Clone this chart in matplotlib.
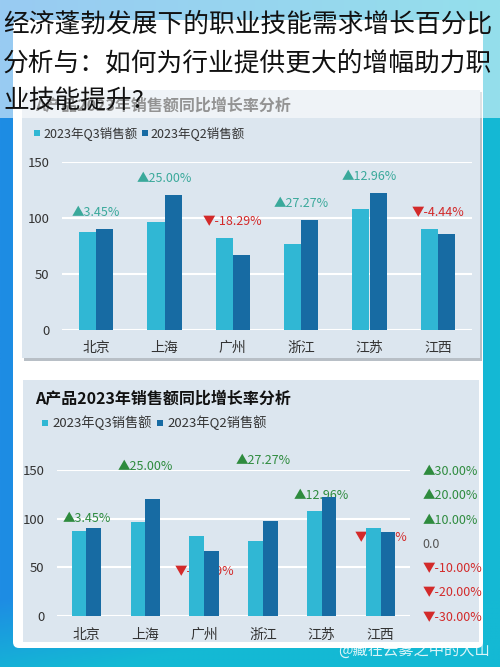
import matplotlib
matplotlib.use('Agg')
import matplotlib.pyplot as plt
import numpy as np
from matplotlib.patches import Rectangle, FancyBboxPatch

plt.rcParams['font.family'] = ['Noto Sans CJK SC', 'DejaVu Sans']

# data
cities = ['北京', '上海', '广州', '浙江', '江苏', '江西']
q3_sales = [87, 96, 82, 77, 108, 90]
q2_sales = [90, 120, 67, 98, 122, 86]
growth = [3.45, 25.00, -18.29, 27.27, 12.96, -4.44]
left_ticks = [0, 50, 100, 150]
right_ticks = [30, 20, 10, 0, -10, -20, -30]
series_names = ['2023年Q3销售额', '2023年Q2销售额']
chart_title = 'A产品2023年销售额同比增长率分析'
headline = ['经济蓬勃发展下的职业技能需求增长百分比',
            '分析与：如何为行业提供更大的增幅助力职',
            '业技能提升?']
watermark = '@藏在云雾之中的大山'

c_q3 = '#30b7d4'
c_q2 = '#176ba3'
c_panel = '#dce6ef'
c_up_top = '#3aa99b'
c_up = '#2e8b3e'
c_down = '#d32a2a'
c_text = '#333333'

W, H = 500, 667
fig = plt.figure(figsize=(W / 100, H / 100), dpi=100)


def px_rect(l, t, r, b):
    return [l / W, 1 - b / H, (r - l) / W, (b - t) / H]


# background layer in pixel coordinates
bg = fig.add_axes([0, 0, 1, 1], zorder=-10)
gx = np.linspace(0, 1, 200)[None, :]
gy = np.linspace(0, 1, 267)[:, None]
t = np.clip(gx + np.clip((gy - 0.9) * 8, 0, 1), 0, 1)[..., None]
c0 = np.array([30, 140, 228]) / 255
c1 = np.array([20, 185, 212]) / 255
bg.imshow(c0 * (1 - t) + c1 * t, extent=(0, W, H, 0), aspect='auto')
bg.set_xlim(0, W)
bg.set_ylim(H, 0)
bg.axis('off')

bg.add_patch(FancyBboxPatch((13, 20), 470, 628, boxstyle='round,pad=0,rounding_size=6',
                            fc='white', ec='none'))
# panels with a soft shadow
bg.add_patch(Rectangle((24, 92), 458, 269, fc='#b8bfc6', ec='none'))
bg.add_patch(Rectangle((22, 90), 458, 268, fc=c_panel, ec='none'))
bg.add_patch(Rectangle((23, 380), 456, 262, fc=c_panel, ec='none'))

# titles and legends of both panels
for ty, sq, tx, fs in [(106, [(34, 130), (142, 130)], [43, 150], 9),
                       (399, [(42, 420), (157, 420)], [52, 167], 9.5)]:
    bg.text(35, ty, chart_title, fontsize=11.5, fontweight='bold', color='#111111',
            va='center', ha='left')
    for (sx, sy), x0, name, col in zip(sq, tx, series_names, [c_q3, c_q2]):
        bg.add_patch(Rectangle((sx, sy), 6, 6, fc=col, ec='none'))
        bg.text(x0, sy + 3, name, fontsize=fs, color=c_text, va='center', ha='left')

x = np.arange(len(cities))
w = 0.25

# ---- top chart ----
ax = fig.add_axes(px_rect(62, 161.7, 472, 330), zorder=1)
ax.set_facecolor('none')
ax.bar(x - w / 2, q3_sales, w, color=c_q3, zorder=2)
ax.bar(x + w / 2, q2_sales, w, color=c_q2, zorder=2)
for i, gr in enumerate(growth):
    top = max(q3_sales[i], q2_sales[i])
    if gr >= 0:
        lab, col = '▲%.2f%%' % gr, c_up_top
    else:
        lab, col = '▼%.2f%%' % gr, c_down
    ax.annotate(lab, (i, top), xytext=(0, 12), textcoords='offset points',
                ha='center', va='center', fontsize=9, color=col)
ax.set_xlim(-0.5, 5.5)
ax.set_ylim(0, 150)
ax.set_yticks(left_ticks)
ax.set_xticks(x)
ax.set_xticklabels(cities)
ax.yaxis.grid(True, color='white', lw=1.5)
ax.set_axisbelow(True)
for s in ax.spines.values():
    s.set_visible(False)
ax.tick_params(length=0, labelsize=9.5, colors=c_text)
ax.tick_params(axis='y', pad=9)
ax.tick_params(axis='x', pad=8, labelsize=10)

# ---- bottom chart ----
ax = fig.add_axes(px_rect(57, 470, 410, 615.7), zorder=1)
ax.set_facecolor('none')
ax.bar(x - w / 2, q3_sales, w, color=c_q3, zorder=2)
ax.bar(x + w / 2, q2_sales, w, color=c_q2, zorder=2)
ax.set_xlim(-0.5, 5.5)
ax.set_ylim(0, 150)
ax.set_yticks(left_ticks)
ax.set_xticks(x)
ax.set_xticklabels(cities)
ax.yaxis.grid(True, color='white', lw=1.5)
ax.set_axisbelow(True)
for s in ax.spines.values():
    s.set_visible(False)
ax.tick_params(length=0, labelsize=9.5, colors=c_text)
ax.tick_params(axis='y', pad=9)
ax.tick_params(axis='x', pad=9, labelsize=10)

ax2 = ax.twinx()
ax2.set_ylim(-30, 30)
ax2.set_yticks(right_ticks)
rlabels = []
for v in right_ticks:
    if v > 0:
        rlabels.append('▲%.2f%%' % v)
    elif v < 0:
        rlabels.append('▼%.2f%%' % v)
    else:
        rlabels.append('0.0')
ax2.set_yticklabels(rlabels)
for tl, v in zip(ax2.get_yticklabels(), right_ticks):
    tl.set_color(c_up if v > 0 else (c_down if v < 0 else '#555555'))
for s in ax2.spines.values():
    s.set_visible(False)
ax2.tick_params(length=0, labelsize=9, pad=9)

# growth labels sit behind the bars
for i, gr in enumerate(growth):
    if gr >= 0:
        lab, col = '▲%.2f%%' % gr, c_up
    else:
        lab, col = '▼%.2f%%' % gr, c_down
    ax.annotate(lab, (i, gr), xycoords=ax2.transData, xytext=(0, 11.5),
                textcoords='offset points', ha='center', va='center',
                fontsize=9, color=col, zorder=1)

# ---- overlay: washed band and headline ----
ov = fig.add_axes([0, 0, 1, 1], zorder=10)
ov.set_xlim(0, W)
ov.set_ylim(H, 0)
ov.axis('off')
ov.add_patch(Rectangle((0, 0), W, 118, fc='white', ec='none', alpha=0.55))
for k, line in enumerate(headline):
    ov.text(3, 25 + 38 * k, line, fontsize=18.5, color='#111111', va='center', ha='left')
ov.text(490, 650, watermark, fontsize=11, color='white', alpha=0.85,
        va='center', ha='right')

fig.savefig('out.png', dpi=100)
